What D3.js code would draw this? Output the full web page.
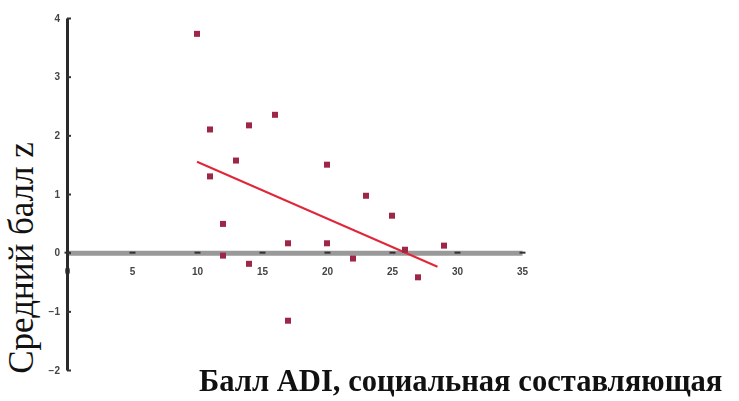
<!DOCTYPE html>
<html>
<head>
<meta charset="utf-8">
<script src="https://cdn.jsdelivr.net/npm/d3@7/dist/d3.min.js"></script>
<style>
  html, body { margin: 0; padding: 0; background: #fff; }
  svg { display: block; }
</style>
</head>
<body>
<svg id="chart" width="739" height="401"></svg>
<script>
// ADI social component score vs. mean z score
const adiScore = [10, 11, 11, 12, 12, 13, 14, 14, 16, 17, 17, 20, 20, 22, 23, 25, 26, 27, 29];
const meanZ    = [3.73, 2.1, 1.3, 0.49, -0.05, 1.57, 2.17, -0.19, 2.35, 0.16, -1.16, 1.5, 0.16, -0.1, 0.97, 0.63, 0.05, -0.42, 0.12];

// fitted trend line end points
const trendX = [10, 28.5];
const trendY = [1.55, -0.24];

const xTicks = [0, 5, 10, 15, 20, 25, 30, 35];
const yTicks = [-2, -1, 0, 1, 2, 3, 4];

const xTitle = "Балл ADI, социальная составляющая";
const yTitle = "Средний балл z";

const svg = d3.select("#chart");

const x = d3.scaleLinear().domain([0, 35]).range([67, 522]);
const y = d3.scaleLinear().domain([-2, 4]).range([370, 18]);

const defs = svg.append("defs");
defs.append("filter").attr("id", "soft")
  .attr("filterUnits", "userSpaceOnUse")
  .attr("x", 0).attr("y", 0).attr("width", 560).attr("height", 390)
  .append("feGaussianBlur").attr("stdDeviation", 0.5);

const plot = svg.append("g").attr("filter", "url(#soft)");

// horizontal axis drawn through zero
const xAxis = d3.axisBottom(x).tickValues(xTicks).tickSize(0).tickPadding(15)
  .tickFormat(d3.format("d"));
const gx = plot.append("g").attr("transform", `translate(0,${y(0)})`).call(xAxis);
gx.select(".domain").attr("stroke", "#999").attr("stroke-width", 5);
gx.selectAll(".tick").append("line")
  .attr("x1", -3).attr("x2", 3).attr("y1", 0).attr("y2", 0)
  .attr("stroke", "#333").attr("stroke-width", 2);
gx.selectAll(".tick text")
  .attr("font-family", "Liberation Sans, Arial, sans-serif")
  .attr("font-size", 10).attr("font-weight", "bold").attr("fill", "#444");

// vertical axis
const yAxis = d3.axisLeft(y).tickValues(yTicks).tickSizeInner(-4).tickSizeOuter(0)
  .tickPadding(7).tickFormat(d3.format("d"));
const gy = plot.append("g").attr("transform", `translate(${x(0)},0)`).call(yAxis);
gy.select(".domain").attr("stroke", "#2a2a2a").attr("stroke-width", 3);
gy.selectAll(".tick line").attr("stroke", "#333").attr("stroke-width", 2);
gy.selectAll(".tick text")
  .attr("font-family", "Liberation Sans, Arial, sans-serif")
  .attr("font-size", 10).attr("font-weight", "bold").attr("fill", "#444");

// trend line
plot.append("line")
  .attr("x1", x(trendX[0])).attr("y1", y(trendY[0]))
  .attr("x2", x(trendX[1])).attr("y2", y(trendY[1]))
  .attr("stroke", "#e0283a").attr("stroke-width", 2);

// data points
plot.append("g").selectAll("rect")
  .data(adiScore.map((d, i) => ({ a: d, z: meanZ[i] })))
  .join("rect")
  .attr("x", d => x(d.a) - 3)
  .attr("y", d => y(d.z) - 3)
  .attr("width", 6).attr("height", 6)
  .attr("fill", "#9e2848");

// axis titles
svg.append("text")
  .attr("transform", `translate(33,258) rotate(-90)`)
  .attr("text-anchor", "middle")
  .attr("font-family", "Liberation Serif, Times New Roman, serif")
  .attr("font-size", 35).attr("fill", "#111")
  .text(yTitle);

svg.append("text")
  .attr("x", 199).attr("y", 391)
  .attr("font-family", "Liberation Serif, Times New Roman, serif")
  .attr("font-size", 30.6).attr("font-weight", "bold").attr("fill", "#111")
  .text(xTitle);
</script>
</body>
</html>
